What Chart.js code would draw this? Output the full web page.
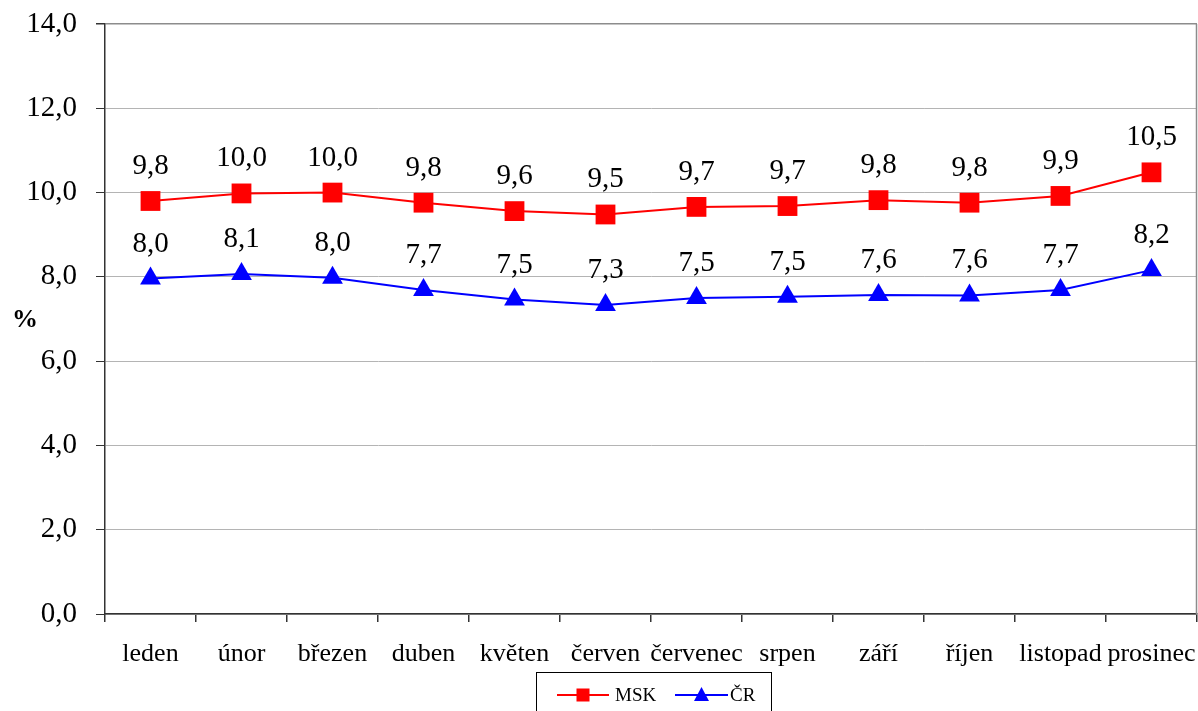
<!DOCTYPE html>
<html>
<head>
<meta charset="utf-8">
<script src="https://cdn.jsdelivr.net/npm/chart.js@4.4.1/dist/chart.umd.min.js"></script>
<style>
  html, body { margin: 0; padding: 0; background: #fff; }
  #wrap { width: 1198px; height: 711px; }
</style>
</head>
<body>
<div id="wrap"><canvas id="chart" width="1198" height="711"></canvas></div>
<script>
// Data
const months = ['leden', 'únor', 'březen', 'duben', 'květen', 'červen', 'červenec', 'srpen', 'září', 'říjen', 'listopad', 'prosinec'];
const mskValues = [9.8, 9.98, 10.0, 9.76, 9.56, 9.48, 9.66, 9.68, 9.82, 9.76, 9.92, 10.48];
const crValues = [7.96, 8.07, 7.98, 7.69, 7.46, 7.33, 7.5, 7.53, 7.57, 7.56, 7.69, 8.16];
const seriesNames = ['MSK', 'ČR'];
const yMin = 0, yMax = 14, yStep = 2;
const yTitle = '%';

const SERIF = '"Liberation Serif", "Times New Roman", serif';
const fmt = v => v.toFixed(1).replace('.', ',');

// value labels above each point
const valueLabels = {
    id: 'valueLabels',
    afterDatasetsDraw(chart){
        const ctx = chart.ctx;
        ctx.save();
        ctx.font = '29px ' + SERIF;
        ctx.fillStyle = '#000';
        ctx.textAlign = 'center';
        ctx.textBaseline = 'alphabetic';
        chart.data.datasets.forEach((ds, i)=>{
            chart.getDatasetMeta(i).data.forEach((pt, j)=>{
                ctx.fillText(fmt(ds.data[j]), pt.x, pt.y - 27);
            });
        });
        ctx.restore();
    }
};

// gray frame on the right side of the plot area + "%" title
const extras = {
    id: 'extras',
    beforeDatasetsDraw(chart){
        const {ctx, chartArea} = chart;
        ctx.save();
        ctx.strokeStyle = '#8c8c8c';
        ctx.lineWidth = 1.5;
        ctx.beginPath();
        ctx.moveTo(chartArea.right - 0.5, chartArea.top);
        ctx.lineTo(chartArea.right - 0.5, chartArea.bottom);
        ctx.stroke();
        ctx.restore();
    },
    afterDraw(chart){
        const ctx = chart.ctx;
        ctx.save();
        ctx.font = 'bold 26px ' + SERIF;
        ctx.fillStyle = '#000';
        ctx.textAlign = 'center';
        ctx.textBaseline = 'middle';
        ctx.fillText(yTitle, 25, 320);
        ctx.restore();
    }
};

// boxed legend at the bottom, line + marker like the original
const boxLegend = {
    id: 'boxLegend',
    afterDraw(chart){
        const ctx = chart.ctx;
        ctx.save();
        ctx.strokeStyle = '#000';
        ctx.lineWidth = 1;
        ctx.strokeRect(536.5, 672.5, 235, 60);
        const items = [
            {x: 557, w: 52, tx: 615},
            {x: 675, w: 53, tx: 730}
        ];
        const y = 695;
        ctx.font = '19px ' + SERIF;
        ctx.textBaseline = 'middle';
        ctx.textAlign = 'left';
        chart.data.datasets.forEach((ds, i)=>{
            const it = items[i];
            ctx.strokeStyle = ds.borderColor;
            ctx.lineWidth = 2;
            ctx.beginPath();
            ctx.moveTo(it.x, y);
            ctx.lineTo(it.x + it.w, y);
            ctx.stroke();
            ctx.fillStyle = ds.backgroundColor;
            const cx = it.x + it.w / 2;
            if(ds.pointStyle === 'rect'){
                ctx.fillRect(cx - 6.5, y - 6.5, 13, 13);
            } else {
                ctx.beginPath();
                ctx.moveTo(cx, y - 8);
                ctx.lineTo(cx + 7.5, y + 6);
                ctx.lineTo(cx - 7.5, y + 6);
                ctx.closePath();
                ctx.fill();
            }
            ctx.fillStyle = '#000';
            ctx.fillText(ds.label, it.tx, y + 1);
        });
        ctx.restore();
    }
};

const ctx = document.getElementById('chart').getContext('2d');
new Chart(ctx, {
    type: 'line',
    data: {
        labels: months,
        datasets: [
            {
                label: seriesNames[0],
                data: mskValues,
                borderColor: '#ff0000',
                backgroundColor: '#ff0000',
                borderWidth: 2,
                pointStyle: 'rect',
                pointRadius: 14,
                pointBorderWidth: 0,
                tension: 0
            },
            {
                label: seriesNames[1],
                data: crValues,
                borderColor: '#0000ff',
                backgroundColor: '#0000ff',
                borderWidth: 2,
                pointStyle: 'triangle',
                pointRadius: 12,
                pointBorderWidth: 0,
                tension: 0
            }
        ]
    },
    options: {
        responsive: false,
        animation: false,
        devicePixelRatio: 1,
        layout: { autoPadding: false, padding: { top: 24, right: 1, left: 0, bottom: 0 } },
        plugins: {
            legend: { display: false },
            tooltip: { enabled: false }
        },
        scales: {
            x: {
                offset: true,
                grid: {
                    offset: true,
                    drawOnChartArea: false,
                    drawTicks: true,
                    tickLength: 8,
                    color: '#333',
                    lineWidth: 1.5
                },
                border: { color: '#333', width: 1.5 },
                ticks: {
                    color: '#000',
                    font: { family: SERIF, size: 26 },
                    padding: 17,
                    maxRotation: 0,
                    autoSkip: false
                },
                afterFit(scale){
                    scale.height = 97;
                    scale.paddingLeft = 0;
                    scale.paddingRight = 0;
                }
            },
            y: {
                min: yMin,
                max: yMax,
                grid: {
                    color: c => c.tick && c.tick.value === yMax ? '#8c8c8c' : '#b4b4b4',
                    lineWidth: c => c.tick && c.tick.value === yMax ? 1.5 : 1,
                    tickColor: '#333',
                    tickLength: 9
                },
                border: { color: '#333', width: 1.5 },
                ticks: {
                    stepSize: yStep,
                    color: '#000',
                    font: { family: SERIF, size: 29 },
                    padding: 19,
                    callback: v => fmt(v)
                },
                afterFit(scale){
                    scale.width = 105;
                    scale.paddingTop = 0;
                    scale.paddingBottom = 0;
                }
            }
        }
    },
    plugins: [valueLabels, extras, boxLegend]
});
</script>
</body>
</html>
